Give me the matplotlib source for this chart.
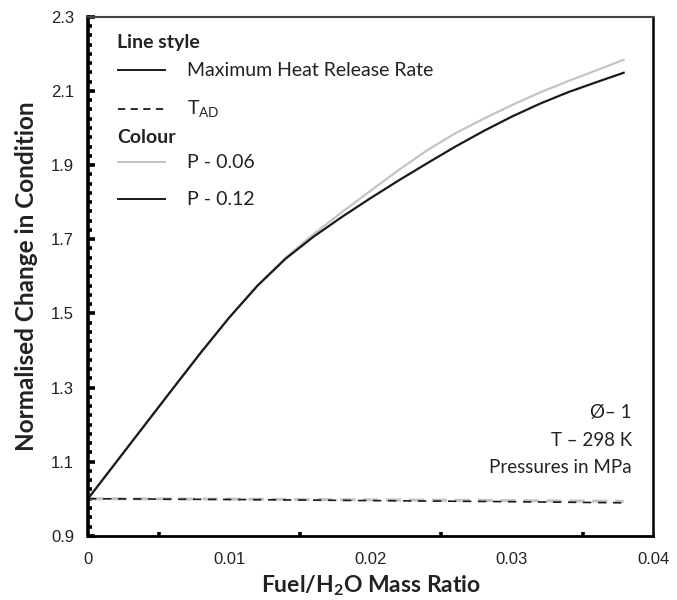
import matplotlib.pyplot as plt
from matplotlib.ticker import MultipleLocator

# Fuel/H2O mass ratio sample points
ratio = [0, 0.002, 0.004, 0.006, 0.008, 0.010, 0.012, 0.014, 0.016,
         0.018, 0.020, 0.022, 0.024, 0.026, 0.028, 0.030, 0.032,
         0.034, 0.036, 0.0379]

# Normalised maximum heat release rate
hrr_p012 = [1.0, 1.099, 1.198, 1.297, 1.395, 1.489, 1.575, 1.648, 1.708,
            1.761, 1.811, 1.859, 1.905, 1.950, 1.992, 2.031, 2.066,
            2.097, 2.124, 2.149]
hrr_p006 = [1.0, 1.099, 1.198, 1.297, 1.395, 1.489, 1.575, 1.651, 1.715,
            1.774, 1.831, 1.887, 1.940, 1.986, 2.025, 2.062, 2.096,
            2.127, 2.156, 2.184]

# Normalised adiabatic flame temperature
tad_x = [0, 0.01, 0.02, 0.03, 0.0379]
tad_p012 = [1.0, 0.998, 0.995, 0.992, 0.989]
tad_p006 = [1.0, 0.999, 0.997, 0.995, 0.993]

GREY = '#c4c4c4'
BLACK = '#1a1a1a'
TXT = 'Lato'
NUM = 'Liberation Sans'

plt.rcParams['mathtext.fontset'] = 'custom'
plt.rcParams['mathtext.rm'] = 'Lato'
plt.rcParams['mathtext.bf'] = 'Lato:bold'

fig, ax = plt.subplots(figsize=(6.77, 6.0), dpi=100)
fig.subplots_adjust(left=0.13, right=0.965, top=0.972, bottom=0.107)

ax.plot(ratio, hrr_p006, color=GREY, linewidth=1.6)
ax.plot(ratio, hrr_p012, color=BLACK, linewidth=1.6)
ax.plot(tad_x, tad_p006, color=GREY, linewidth=2.2, dashes=(5, 2.5))
ax.plot(tad_x, tad_p012, color=BLACK, linewidth=1.2, dashes=(5, 4))

ax.set_xlim(0, 0.04)
ax.set_ylim(0.9, 2.3)
ax.xaxis.set_minor_locator(MultipleLocator(0.005))
ax.yaxis.set_minor_locator(MultipleLocator(0.025))
ax.set_xticks([0, 0.01, 0.02, 0.03, 0.04])
ax.set_xticklabels(['0', '0.01', '0.02', '0.03', '0.04'])
ax.set_yticks([0.9, 1.1, 1.3, 1.5, 1.7, 1.9, 2.1, 2.3])
ax.set_yticklabels(['0.9', '1.1', '1.3', '1.5', '1.7', '1.9', '2.1', '2.3'])

ax.tick_params(which='both', direction='in', width=2.6, color='black',
               top=False, right=False)
ax.tick_params(which='minor', length=3)
ax.tick_params(axis='y', which='major', length=5, pad=10)
ax.tick_params(axis='x', which='major', length=0, pad=12)
for lab in ax.get_xticklabels() + ax.get_yticklabels():
    lab.set_fontfamily(NUM)
    lab.set_fontsize(12)
    lab.set_color('#222222')

ax.spines['left'].set_linewidth(2.6)
ax.spines['bottom'].set_linewidth(2.0)
ax.spines['right'].set_linewidth(1.8)
ax.spines['top'].set_linewidth(1.5)
ax.spines['top'].set_color('#444444')

ax.set_xlabel('Fuel/H$_\\mathbf{2}$O Mass Ratio', fontfamily=TXT,
              fontweight='bold', fontsize=16.5, labelpad=4, color='#222222')
ax.set_ylabel('Normalised Change in Condition', fontfamily=TXT,
              fontweight='bold', fontsize=17.5, labelpad=9, color='#222222')

# key drawn as text and short lines in axes coordinates
tf = ax.transAxes
kw = dict(transform=tf, fontfamily=TXT, fontsize=14, va='center',
          color='#222222')
ax.text(0.052, 0.951, 'Line style', fontweight='bold', **kw)
ax.plot([0.053, 0.136], [0.897, 0.897], transform=tf, color=BLACK, lw=1.4)
ax.text(0.175, 0.897, 'Maximum Heat Release Rate', **kw)
ax.plot([0.053, 0.136], [0.822, 0.822], transform=tf, color=BLACK, lw=1.3,
        dashes=(4, 3))
ax.text(0.175, 0.822, 'T$_\\mathregular{AD}$', **kw)
ax.text(0.052, 0.768, 'Colour', fontweight='bold', **kw)
ax.plot([0.053, 0.136], [0.720, 0.720], transform=tf, color=GREY, lw=1.4)
ax.text(0.175, 0.720, 'P - 0.06', **kw)
ax.plot([0.053, 0.136], [0.648, 0.648], transform=tf, color=BLACK, lw=1.4)
ax.text(0.175, 0.648, 'P - 0.12', **kw)

kw['ha'] = 'right'
kw['fontsize'] = 13.5
ax.text(0.962, 0.237, 'Ø– 1', **kw)
ax.text(0.962, 0.183, 'T – 298 K', **kw)
ax.text(0.962, 0.131, 'Pressures in MPa', **kw)

fig.savefig('out.png', dpi=100)
